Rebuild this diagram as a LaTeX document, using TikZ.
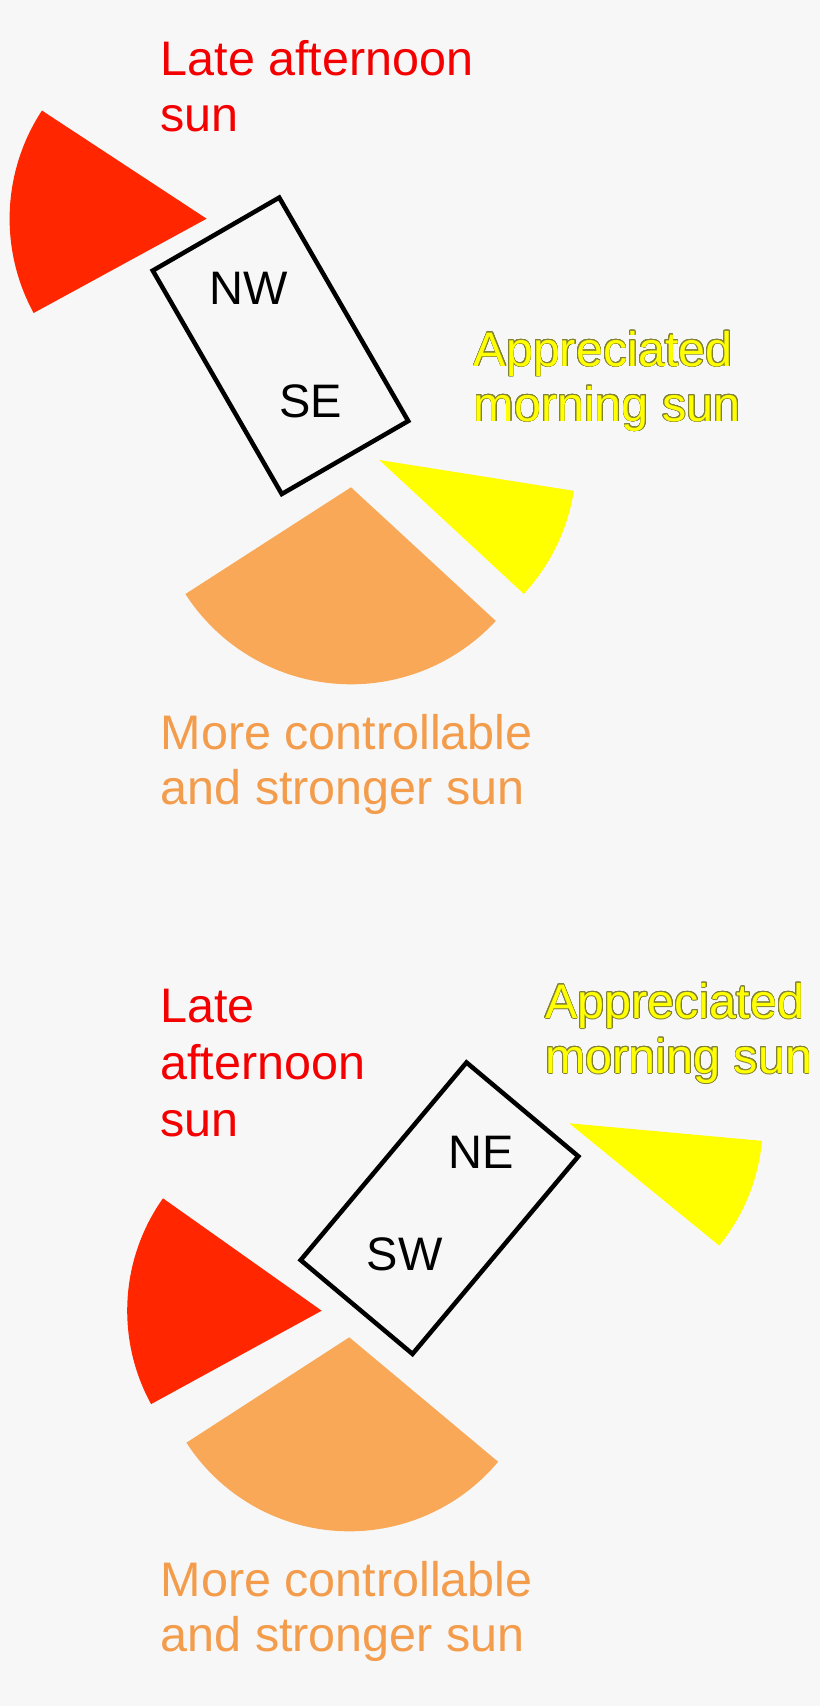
\documentclass[tikz,border=0pt]{standalone}
\usepackage{fontspec}
\setmainfont{Liberation Sans}
\usepackage{contour}
\contourlength{0.7pt}
\contournumber{24}
\usetikzlibrary{positioning}
\definecolor{paper}{RGB}{247,247,247}
\definecolor{evered}{RGB}{255,38,0}
\definecolor{evetext}{RGB}{245,0,0}
\definecolor{noonorange}{RGB}{249,168,87}
\definecolor{noontext}{RGB}{243,156,75}
\definecolor{mornyellow}{RGB}{255,255,0}
\definecolor{mornedge}{RGB}{130,130,55}
\tikzstyle{house} = [draw, line width=4.5pt, rectangle, minimum width=258pt,
minimum height=146pt, inner sep=0pt]
\newcommand{\mornline}[1]{\contour{mornedge}{\textcolor{mornyellow}{#1}}}

\begin{document}
\begin{tikzpicture}[x=1pt, y=-1pt,
	sunnote/.style={anchor=base west, inner sep=0pt, align=left,
		font=\fontsize{48.5}{55}\selectfont},
	facing/.style={inner sep=0pt, font=\fontsize{47}{55}\selectfont}]
	\useasboundingbox (0,0) rectangle (820,1706);
	\fill [paper] (0,0) rectangle (820,1706);
	%% upper plan: house facing NW / SE
	\coordinate (eveA) at (206.6,218.7);
	\coordinate (mornA) at (379.3,460);
	\coordinate (noonA) at (351,487.3);
	\fill [evered] (eveA) -- ++(151.4:197) arc [start angle=151.4, end angle=213.3, radius=197] -- cycle;
	\fill [mornyellow] (mornA) -- ++(9:197) arc [start angle=9, end angle=42.8, radius=197] -- cycle;
	\fill [noonorange] (noonA) -- ++(42.7:197) arc [start angle=42.7, end angle=147.2, radius=197] -- cycle;
	\node [house, rotate=-60] (houseA) at (280.5,345.8) {};
	\node [facing] (nwA) at (249,288) {NW};
	\node [facing] (seA) at (310.7,401) {SE};
	\node [sunnote, text=evetext, font=\fontsize{48.5}{56}\selectfont] (eveTA) at (160.5,131.7) {Late afternoon\\sun};
	\node [sunnote] (mornTA) at (473.5,421) {\mornline{Appreciated}\\\mornline{morning sun}};
	\node [sunnote, text=noontext] (noonTA) at (160.5,804) {More controllable\\and stronger sun};
	%% lower plan: house facing NE / SW
	\coordinate (eveB) at (321.7,1310.7);
	\coordinate (mornB) at (569.3,1123.3);
	\coordinate (noonB) at (349.3,1337.3);
	\fill [evered] (eveB) -- ++(151.3:194.5) arc [start angle=151.3, end angle=215.3, radius=194.5] -- cycle;
	\fill [mornyellow] (mornB) -- ++(5.2:193.5) arc [start angle=5.2, end angle=39.2, radius=193.5] -- cycle;
	\fill [noonorange] (noonB) -- ++(39.9:194) arc [start angle=39.9, end angle=147.1, radius=194] -- cycle;
	\node [house, rotate=-130] (houseB) at (439.5,1208.2) {};
	\node [facing] (neB) at (481.2,1152) {NE};
	\node [facing] (swB) at (404.8,1254.8) {SW};
	\node [sunnote, text=evetext, font=\fontsize{48.5}{56.7}\selectfont] (eveTB) at (160,1136) {Late\\afternoon\\sun};
	\node [sunnote] (mornTB) at (545,1073.3) {\mornline{Appreciated}\\\mornline{morning sun}};
	\node [sunnote, text=noontext] (noonTB) at (160.5,1651) {More controllable\\and stronger sun};
\end{tikzpicture}
\end{document}
